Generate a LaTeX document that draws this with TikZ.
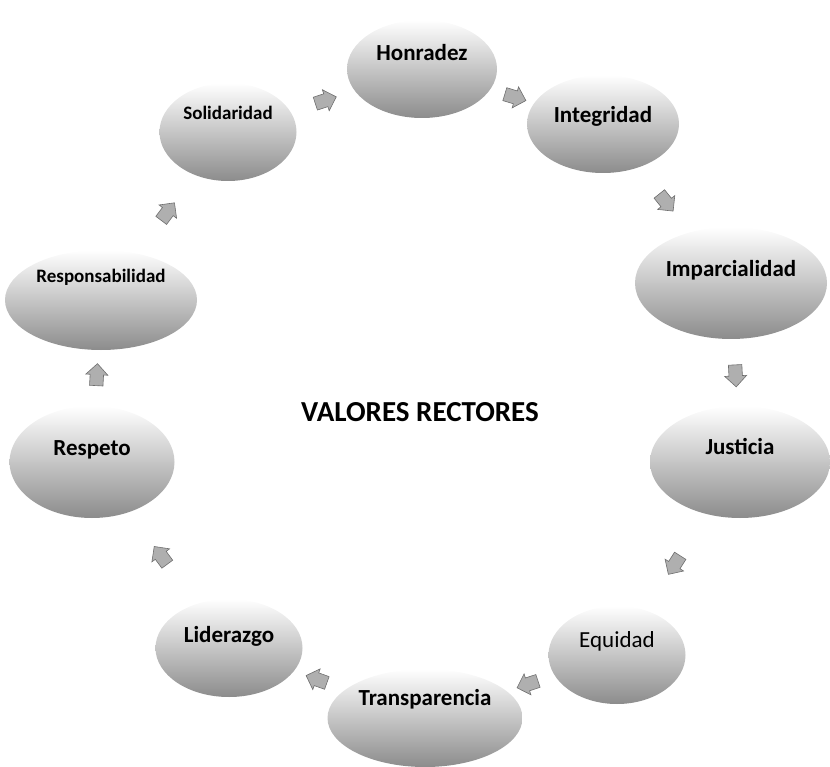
\documentclass[tikz,border=0pt]{standalone}
\usepackage{fontspec}
\setmainfont{Carlito}
\usetikzlibrary{shapes.geometric, shapes.arrows, calc}
\definecolor{BlobGray}{RGB}{140,140,140}
\definecolor{ArrowGray}{RGB}{110,110,110}

\tikzset{
  blob/.style={ellipse, draw=none, top color=white, bottom color=BlobGray,
    minimum width=#1, minimum height=98pt, inner sep=0pt},
  blob/.default=145pt,
  valor/.style={font=\fontsize{23}{26}\selectfont\bfseries},
  flecha/.style={single arrow, fill=ArrowGray!55, draw=ArrowGray, line width=0.6pt,
    minimum height=22pt, minimum width=22pt, single arrow head extend=4pt,
    inner sep=6pt, sloped, allow upside down}
}

\begin{document}
\begin{tikzpicture}[x=1pt, y=-1pt]
    \useasboundingbox (0,0) rectangle (830,767);

    % Blobs
    \node[blob=150pt] (hon) at (422,69) {};
    \node[blob=152pt] (int) at (603,124) {};
    \node[blob=192pt, minimum height=112pt] (imp) at (731,283) {};
    \node[blob=180pt, minimum height=112pt] (jus) at (740,462) {};
    \node[blob=137pt] (equ) at (617,655) {};
    \node[blob=195pt] (tra) at (425,718) {};
    \node[blob=147pt] (lid) at (229,648) {};
    \node[blob=165pt, minimum height=112pt] (res) at (92,462) {};
    \node[blob=192pt, minimum height=100pt] (resp) at (101,300) {};
    \node[blob=137pt] (sol) at (228,132) {};

    % Labels
    \node[valor] (honT) at ([yshift=16pt]hon.center) {Honradez};
    \node[valor] (intT) at ([yshift=8pt]int.center) {Integridad};
    \node[valor] (impT) at ([yshift=13pt]imp.center) {Imparcialidad};
    \node[valor] (jusT) at ([yshift=16pt]jus.center) {Justicia};
    \node[font=\fontsize{23}{26}\selectfont] (equT) at ([yshift=14pt]equ.center) {Equidad};
    \node[valor] (traT) at ([yshift=19pt]tra.center) {Transparencia};
    \node[valor] (lidT) at ([yshift=12pt]lid.center) {Liderazgo};
    \node[valor] (resT) at ([yshift=12pt]res.center) {Respeto};
    \node[valor, font=\fontsize{19}{22}\selectfont\bfseries] (respT) at ([yshift=23pt]resp.center) {Responsabilidad};
    \node[valor, font=\fontsize{19}{22}\selectfont\bfseries] (solT) at ([yshift=19pt]sol.center) {Solidaridad};

    % Title
    \node[font=\fontsize{29}{32}\selectfont\bfseries] (titulo) at (420,412) {VALORES RECTORES};

    % Arrows
    \path (sol) -- (hon) node[flecha, midway] (a1) {};
    \path (hon) -- (int) node[flecha, midway] (a2) {};
    \path (int) -- (imp) node[flecha, midway] (a3) {};
    \path (imp) -- (jus) node[flecha, midway] (a4) {};
    \path (jus) -- (equ) node[flecha, midway] (a5) {};
    \path (equ) -- (tra) node[flecha, midway] (a6) {};
    \path (tra) -- (lid) node[flecha, midway] (a7) {};
    \path (lid) -- (res) node[flecha, midway] (a8) {};
    \path (res) -- (resp) node[flecha, midway] (a9) {};
    \path (resp) -- (sol) node[flecha, midway] (a10) {};
\end{tikzpicture}
\end{document}
